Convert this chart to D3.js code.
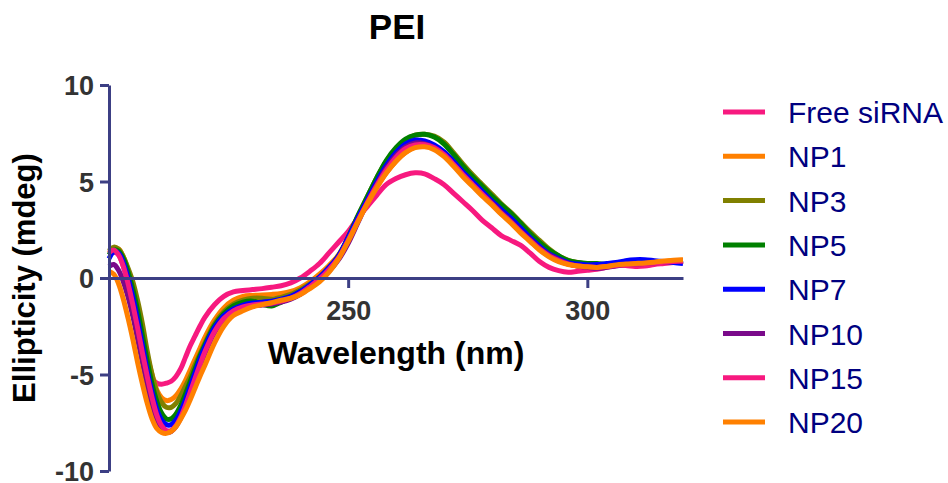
<!DOCTYPE html>
<html>
<head>
<meta charset="utf-8">
<script src="https://cdn.jsdelivr.net/npm/d3@7"></script>
<style>
  html, body { margin: 0; padding: 0; background: #ffffff; }
  svg { display: block; }
  text { font-family: Arial, "Liberation Sans", sans-serif; }
</style>
</head>
<body>
<svg id="chart" width="948" height="483"></svg>
<script>
// ---------------- DATA ----------------
const chartTitle = "PEI";
const xAxisTitle = "Wavelength (nm)";
const yAxisTitle = "Ellipticity (mdeg)";
const xTicks = [250, 300];
const yTicks = [-10, -5, 0, 5, 10];
const xDomain = [200, 320];
const yDomain = [-10, 10];

const wavelengths = [
  200,201,202,203,204,205,206,207,208,209,210,211,212,213,214,215,216,217,218,219,220,
  222,224,226,228,230,232,234,236,238,240,242,244,246,248,250,252,254,256,258,260,
  262,264,266,268,270,272,274,276,278,280,282,284,286,288,290,292,294,296,298,300,
  302,304,306,308,310,312,314,316,318,320
];

const seriesNames = ["Free siRNA", "NP1", "NP3", "NP5", "NP7", "NP10", "NP15", "NP20"];
const seriesColors = ["#F7197F", "#FF8000", "#808000", "#008000", "#0000FF", "#7A0A8A", "#F7197F", "#FF8000"];

const freeSiRNA = [
  1.2, 1.35, 1.2, 0.6, -0.3, -1.4, -2.6, -3.7, -4.6, -5.2, -5.45, -5.5, -5.45, -5.35, -5.1, -4.7, -4.1, -3.5, -3.0, -2.5, -2.05,
  -1.4, -0.95, -0.72, -0.65, -0.6, -0.55, -0.48, -0.4, -0.25, 0.0,
  0.35, 0.75, 1.3, 1.85, 2.4, 3.1, 3.7, 4.3, 4.85, 5.15,
  5.35, 5.45, 5.4, 5.15, 4.85, 4.4, 3.95, 3.5, 3.0, 2.6,
  2.2, 1.95, 1.7, 1.3, 0.85, 0.55, 0.38, 0.3, 0.35, 0.4,
  0.45, 0.55, 0.65, 0.65, 0.6, 0.62, 0.7, 0.75, 0.8, 0.85
];
const np1 = [
  1.3, 1.5, 1.5, 1.1, 0.4, -0.5, -1.6, -2.8, -4.0, -5.0, -5.8, -6.2, -6.35, -6.3, -6.1, -5.75, -5.3, -4.75, -4.2, -3.65, -3.1,
  -2.2, -1.55, -1.15, -0.95, -0.9, -0.88, -0.85, -0.8, -0.7, -0.5,
  -0.2, 0.2, 0.65, 1.2, 2.05, 3.0, 3.85, 4.7, 5.45, 6.05,
  6.5, 6.8, 6.85, 6.7, 6.35, 5.85, 5.3, 4.8, 4.3, 3.85,
  3.35, 2.9, 2.4, 1.95, 1.5, 1.15, 0.9, 0.72, 0.62, 0.58,
  0.55, 0.6, 0.65, 0.7, 0.72, 0.75, 0.8, 0.85, 0.9, 0.92
];
const np3 = [
  1.4, 1.6, 1.5, 1.1, 0.5, -0.2, -1.2, -2.4, -3.8, -5.0, -5.9, -6.45, -6.7, -6.7, -6.5, -6.1, -5.6, -5.1, -4.5, -3.95, -3.4,
  -2.4, -1.75, -1.35, -1.15, -1.05, -1.05, -1.1, -1.0, -0.85, -0.6,
  -0.3, 0.05, 0.55, 1.15, 2.1, 3.2, 4.2, 5.2, 6.05, 6.7,
  7.15, 7.4, 7.45, 7.35, 7.05, 6.5, 5.9, 5.35, 4.85, 4.35,
  3.85, 3.4, 2.9, 2.4, 1.95, 1.5, 1.15, 0.92, 0.8, 0.72,
  0.7, 0.68, 0.7, 0.75, 0.8, 0.82, 0.85, 0.85, 0.88, 0.9
];
const np5 = [
  1.2, 1.45, 1.4, 1.0, 0.3, -0.6, -1.7, -3.0, -4.3, -5.5, -6.4, -7.0, -7.3, -7.3, -7.05, -6.6, -6.0, -5.35, -4.7, -4.05, -3.5,
  -2.5, -1.85, -1.45, -1.25, -1.2, -1.35, -1.45, -1.25, -1.0, -0.7,
  -0.4, 0.0, 0.5, 1.15, 2.1, 3.2, 4.2, 5.2, 6.1, 6.75,
  7.2, 7.4, 7.45, 7.3, 6.95, 6.4, 5.8, 5.25, 4.75, 4.25,
  3.8, 3.35, 2.85, 2.3, 1.85, 1.45, 1.15, 0.9, 0.8, 0.75,
  0.75, 0.7, 0.7, 0.75, 0.8, 0.82, 0.85, 0.85, 0.85, 0.88
];
const np7 = [
  1.0, 1.35, 1.3, 0.8, 0.0, -1.0, -2.2, -3.5, -4.8, -5.9, -6.8, -7.35, -7.6, -7.6, -7.35, -6.9, -6.3, -5.6, -4.9, -4.2, -3.6,
  -2.6, -1.95, -1.6, -1.4, -1.3, -1.25, -1.2, -1.1, -0.95, -0.7,
  -0.35, 0.05, 0.55, 1.15, 2.1, 3.1, 4.05, 5.0, 5.85, 6.5,
  6.95, 7.15, 7.1, 6.9, 6.55, 6.05, 5.5, 5.0, 4.5, 4.0,
  3.55, 3.1, 2.6, 2.1, 1.65, 1.25, 1.0, 0.8, 0.72, 0.68,
  0.7, 0.75, 0.8, 0.9, 0.95, 0.95, 0.9, 0.85, 0.8, 0.75
];
const np10 = [
  0.6, 0.7, 0.4, -0.2, -1.0, -2.0, -3.2, -4.4, -5.6, -6.6, -7.4, -7.85, -8.0, -7.95, -7.7, -7.25, -6.7, -6.0, -5.3, -4.6, -3.95,
  -2.85, -2.15, -1.75, -1.55, -1.45, -1.4, -1.35, -1.25, -1.1, -0.85,
  -0.5, -0.1, 0.35, 0.95, 1.8, 2.85, 3.9, 4.85, 5.7, 6.35,
  6.8, 7.0, 6.95, 6.75, 6.4, 5.9, 5.35, 4.85, 4.35, 3.9,
  3.4, 2.95, 2.45, 2.0, 1.55, 1.2, 0.95, 0.75, 0.62, 0.55,
  0.5, 0.55, 0.62, 0.7, 0.72, 0.75, 0.78, 0.82, 0.85, 0.88
];
const np15 = [
  1.3, 1.45, 1.2, 0.6, -0.3, -1.4, -2.6, -3.9, -5.1, -6.2, -7.1, -7.65, -7.9, -7.9, -7.65, -7.2, -6.6, -5.9, -5.2, -4.5, -3.85,
  -2.8, -2.1, -1.7, -1.5, -1.4, -1.35, -1.3, -1.2, -1.05, -0.8,
  -0.45, -0.05, 0.45, 1.05, 1.95, 2.95, 3.9, 4.8, 5.6, 6.25,
  6.7, 6.9, 6.9, 6.75, 6.4, 5.9, 5.35, 4.85, 4.35, 3.85,
  3.35, 2.9, 2.4, 1.95, 1.5, 1.15, 0.9, 0.72, 0.62, 0.58,
  0.55, 0.6, 0.65, 0.7, 0.72, 0.75, 0.78, 0.82, 0.85, 0.88
];
const np20 = [
  0.35, 0.2, -0.3, -1.1, -2.1, -3.2, -4.4, -5.5, -6.5, -7.3, -7.8, -8.0, -8.05, -7.95, -7.7, -7.3, -6.85, -6.3, -5.7, -5.1, -4.55,
  -3.4, -2.5, -1.95, -1.7, -1.5, -1.38, -1.28, -1.15, -1.05, -0.85,
  -0.55, -0.2, 0.3, 1.0, 1.9, 2.9, 3.85, 4.7, 5.45, 6.05,
  6.5, 6.75, 6.8, 6.65, 6.3, 5.8, 5.25, 4.75, 4.25, 3.8,
  3.3, 2.85, 2.35, 1.9, 1.45, 1.1, 0.85, 0.7, 0.62, 0.58,
  0.55, 0.6, 0.68, 0.72, 0.75, 0.78, 0.82, 0.88, 0.92, 0.95
];
const seriesValues = [freeSiRNA, np1, np3, np5, np7, np10, np15, np20];

// ---------------- CHART ----------------
const svg = d3.select("#chart");
const axisColor = "#3C3F84";

const x = d3.scaleLinear().domain(xDomain).range([109, 683]);
const y = d3.scaleLinear().domain(yDomain).range([471, 85]);

// title
svg.append("text")
  .attr("x", 397).attr("y", 39)
  .attr("text-anchor", "middle")
  .attr("font-size", 35).attr("font-weight", "bold").attr("fill", "#000")
  .text(chartTitle);

// series lines
const line = d3.line()
  .x(d => x(d[0]))
  .y(d => y(d[1]))
  .curve(d3.curveCatmullRom.alpha(0.5));

const linesG = svg.append("g");
seriesValues.forEach((vals, i) => {
  const pts = wavelengths.map((w, j) => [w, vals[j]]);
  linesG.append("path")
    .datum(pts)
    .attr("d", line)
    .attr("fill", "none")
    .attr("stroke", seriesColors[i])
    .attr("stroke-width", 5)
    .attr("stroke-linejoin", "round")
    .attr("stroke-linecap", "butt");
});

// y axis
const yAxis = svg.append("g")
  .attr("transform", `translate(${x(xDomain[0])},0)`)
  .call(d3.axisLeft(y).tickValues(yTicks).tickSize(9).tickSizeOuter(0).tickPadding(6)
        .tickFormat(d => d < 0 ? "-" + Math.abs(d) : String(d)));
yAxis.select(".domain").attr("stroke", axisColor).attr("stroke-width", 3);
yAxis.selectAll(".tick line").attr("stroke", axisColor).attr("stroke-width", 3);
yAxis.selectAll(".tick text")
  .attr("font-size", 27).attr("font-weight", "bold").attr("fill", "#333")
  .attr("font-family", 'Arial, "Liberation Sans", sans-serif')
  .attr("dy", "0.36em");

// x axis at y = 0
const xAxis = svg.append("g")
  .attr("transform", `translate(0,${y(0)})`)
  .call(d3.axisBottom(x).tickValues(xTicks).tickSize(10).tickSizeOuter(0).tickFormat(d3.format("d")));
xAxis.select(".domain").attr("stroke", axisColor).attr("stroke-width", 3);
xAxis.selectAll(".tick line").attr("stroke", axisColor).attr("stroke-width", 3);
xAxis.selectAll(".tick text")
  .attr("font-size", 27).attr("font-weight", "bold").attr("fill", "#333")
  .attr("font-family", 'Arial, "Liberation Sans", sans-serif')
  .attr("y", 42).attr("dy", 0);

// axis titles
svg.append("text")
  .attr("x", 396).attr("y", 364)
  .attr("text-anchor", "middle")
  .attr("font-size", 32).attr("font-weight", "bold").attr("fill", "#000")
  .text(xAxisTitle);

svg.append("text")
  .attr("transform", `translate(35,278) rotate(-90)`)
  .attr("text-anchor", "middle")
  .attr("font-size", 31).attr("font-weight", "bold").attr("fill", "#000")
  .text(yAxisTitle);

// legend
const legend = svg.append("g");
seriesNames.forEach((name, i) => {
  const cy = 112 + i * 44.3;
  legend.append("line")
    .attr("x1", 723).attr("x2", 765)
    .attr("y1", cy).attr("y2", cy)
    .attr("stroke", seriesColors[i]).attr("stroke-width", 5);
  legend.append("text")
    .attr("x", 788).attr("y", cy + 11)
    .attr("font-size", 30).attr("fill", "#000080")
    .text(name);
});
</script>
</body>
</html>
